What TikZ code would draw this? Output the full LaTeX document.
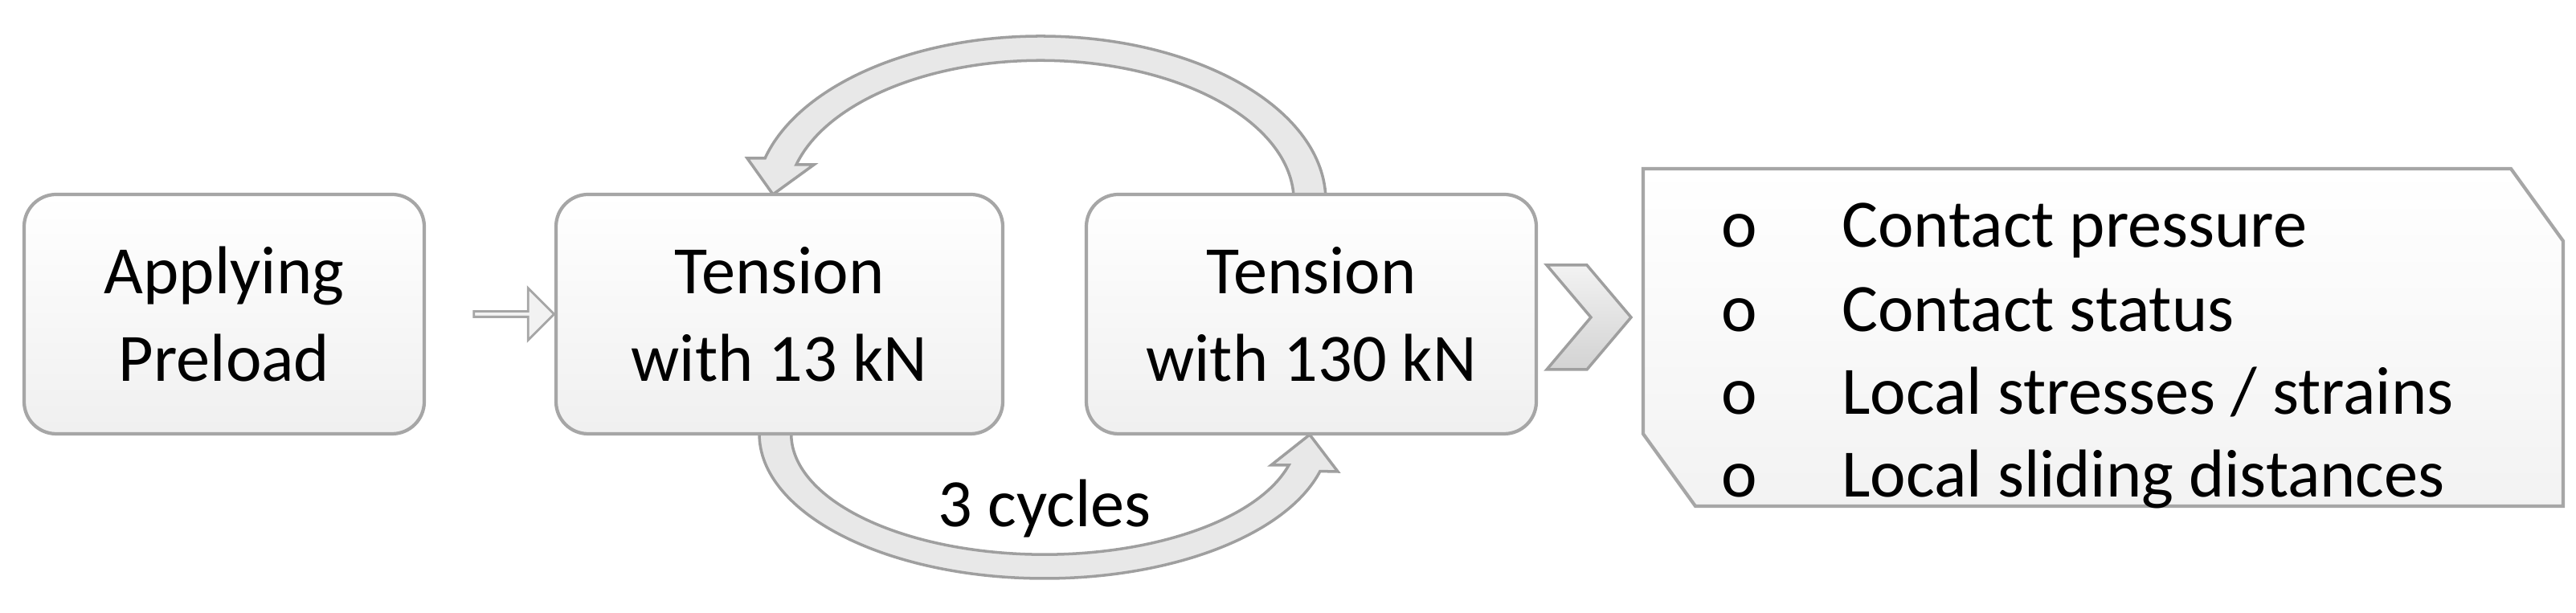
\documentclass[tikz,border=0pt]{standalone}
\usepackage{fontspec}
\setmainfont{Carlito}
\usetikzlibrary{shapes.arrows}
\begin{document}
\begin{tikzpicture}[
  box/.style={draw=gray!70, line width=1.2pt, rounded corners=0.4cm, top color=white, bottom color=gray!12, minimum height=2.98cm, align=center, font=\fontsize{24}{31}\selectfont},
  band/.style={draw=gray!75, line width=1pt, fill=gray!18},
  item/.style={anchor=base west, font=\fontsize{24}{29}\selectfont}
]
\useasboundingbox (0,0) rectangle (32.06,7.63);
% curved arrows
\path[band] (16.50,5.13) arc[start angle=0, end angle=165, x radius=3.55, y radius=2.05] -- (9.30,5.66) -- (9.62,5.21) -- (10.13,5.58) -- (9.91,5.58) arc[start angle=165, end angle=0, x radius=3.15, y radius=1.75] -- cycle;
\path[band] (9.45,2.23) arc[start angle=180, end angle=345, x radius=3.55, y radius=1.80] -- (16.65,1.76) -- (16.30,2.22) -- (15.82,1.84) -- (16.04,1.84) arc[start angle=345, end angle=180, x radius=3.15, y radius=1.50] -- cycle;
% boxes
\node[box, minimum width=4.98cm] (b1) at (2.79,3.72) {Applying\\Preload};
\node[box, minimum width=5.56cm] (b2) at (9.70,3.72) {Tension\\with 13 kN};
\node[box, minimum width=5.60cm] (b3) at (16.32,3.72) {Tension\\with 130 kN};
\node[single arrow, draw=gray!70, fill=gray!10, line width=0.8pt, minimum height=1.0cm, minimum width=0.65cm, single arrow head extend=0.12cm, inner sep=0pt, outer sep=0pt] (a1) at (6.38,3.72) {};
\node[font=\fontsize{24}{29}\selectfont] (cyc) at (13.0,1.30) {3 cycles};
% chevron
\path[draw=gray!75, line width=1pt, top color=gray!10, bottom color=gray!35] (19.25,4.33) -- (19.75,4.33) -- (20.30,3.68) -- (19.75,3.03) -- (19.25,3.03) -- (19.80,3.68) -- cycle;
% result box
\path[draw=gray!70, line width=1.2pt, top color=white, bottom color=gray!10] (20.45,5.53) -- (31.25,5.53) -- (31.90,4.63) -- (31.90,1.33) -- (21.10,1.33) -- (20.45,2.23) -- cycle;
\foreach \y/\t [count=\i] in {4.55/{Contact pressure}, 3.50/{Contact status}, 2.47/{Local stresses / strains}, 1.44/{Local sliding distances}}{
  \node[item] (o\i) at (21.30,\y) {o};
  \node[item] (t\i) at (22.80,\y) {\t};
}
\end{tikzpicture}
\end{document}
